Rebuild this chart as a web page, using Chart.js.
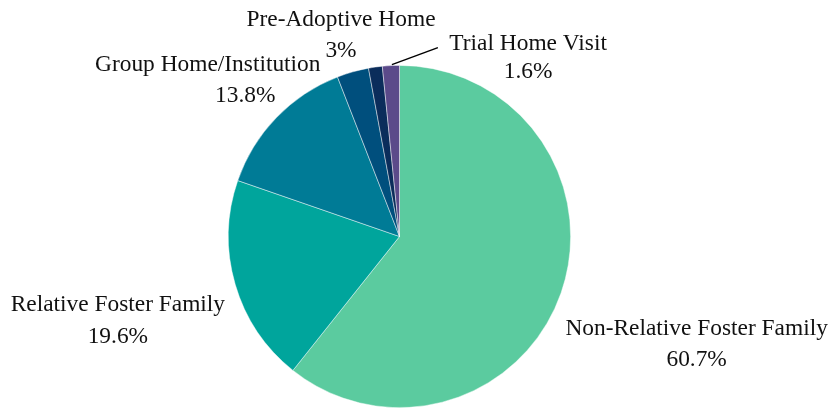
<!DOCTYPE html>
<html>
<head>
<meta charset="utf-8">
<script src="https://cdn.jsdelivr.net/npm/chart.js@4.4.1/dist/chart.umd.min.js"></script>
<style>
  body { margin: 0; background: #fff; }
  canvas { display: block; }
</style>
</head>
<body>
<canvas id="placementChart" width="828" height="408"></canvas>
<script>
const categories = ['Non-Relative Foster Family', 'Relative Foster Family', 'Group Home/Institution', 'Pre-Adoptive Home', 'Other', 'Trial Home Visit'];
const percents = [60.7, 19.6, 13.8, 3, 1.3, 1.6];
const showLabel = [true, true, true, true, false, true];
const sliceColors = ['#5BCB9F', '#00A59C', '#007B96', '#004F7D', '#0B2D5B', '#5B4A8A'];

// label placement relative to the slice's outer edge at its mid angle (px)
const labelOffsets = [
    { dx: 135.6, dy: 42, dx2: 135.6, gap: 31 },
    { dx: -117.3, dy: 27, dx2: -117.3, gap: 32 },
    { dx: -68.5, dy: -46.6, dx2: -31, gap: 31 },
    { dx: -11.8, dy: -45.5, dx2: -11.8, gap: 31 },
    null,
    { dx: 137.2, dy: -16, dx2: 137.2, gap: 28, leader: { x: 47, y: -18 } }
];

const outsideLabels = {
    id: 'outsideLabels',
    afterDatasetsDraw(chart) {
        const ctx = chart.ctx;
        const arcs = chart.getDatasetMeta(0).data;
        ctx.save();
        ctx.font = '23.4px "Liberation Serif", "Times New Roman", serif';
        ctx.fillStyle = '#111111';
        ctx.textAlign = 'center';
        ctx.textBaseline = 'alphabetic';
        arcs.forEach((arc, i) => {
            if (!showLabel[i]) return;
            const o = labelOffsets[i];
            const p = arc.getProps(['x', 'y', 'startAngle', 'endAngle', 'outerRadius'], true);
            const mid = (p.startAngle + p.endAngle) / 2;
            const ex = p.x + Math.cos(mid) * p.outerRadius;
            const ey = p.y + Math.sin(mid) * p.outerRadius;
            if (o.leader) {
                ctx.beginPath();
                ctx.strokeStyle = '#000';
                ctx.lineWidth = 1.5;
                ctx.moveTo(ex + 1, ey - 1);
                ctx.lineTo(ex + o.leader.x, ey + o.leader.y);
                ctx.stroke();
            }
            ctx.fillText(categories[i], ex + o.dx, ey + o.dy);
            ctx.fillText(percents[i] + '%', ex + o.dx2, ey + o.dy + o.gap);
        });
        ctx.restore();
    }
};

new Chart(document.getElementById('placementChart'), {
    type: 'pie',
    data: {
        labels: categories,
        datasets: [{
            data: percents,
            backgroundColor: sliceColors,
            borderColor: 'rgba(255,255,255,0.6)',
            borderWidth: 0.75
        }]
    },
    options: {
        responsive: false,
        animation: false,
        layout: { padding: { top: 65, bottom: 0, left: 0, right: 29 } },
        plugins: {
            legend: { display: false },
            tooltip: { enabled: false }
        }
    },
    plugins: [outsideLabels]
});
</script>
</body>
</html>
